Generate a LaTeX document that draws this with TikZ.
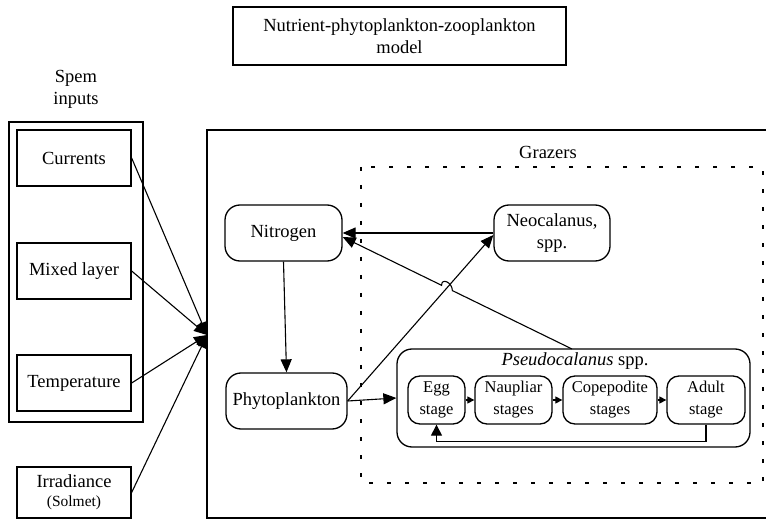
\documentclass[tikz,border=0pt]{standalone}
\usepackage{fontspec}
\setmainfont{Liberation Serif}
\usetikzlibrary{arrows.meta,calc}
\begin{document}
\begin{tikzpicture}[x=1pt,y=-1pt,
  every node/.style={font=\fontsize{18.5}{22}\selectfont, inner sep=0pt, align=center},
  box/.style={draw, line width=1.3pt},
  rbox/.style={draw, line width=1.3pt, rounded corners=15pt},
  stagebox/.style={draw, line width=1.3pt, rounded corners=12pt, font=\fontsize{16.5}{22}\selectfont},
  arr/.style={line width=1.1pt, -{Triangle[length=13pt,width=11pt]}},
  sarr/.style={line width=1.1pt, -{Triangle[length=7pt,width=7pt]}},
  grazerline/.style={line width=1.1pt, dash pattern=on 4pt off 14pt}
]
\useasboundingbox (0,0) rectangle (766,521);

% title
\node[box, minimum width=333pt, minimum height=58pt] (title) at (399.5,36) {Nutrient-phytoplankton-zooplankton\\model};

% inputs
\node (spem) at (76,89) {Spem\\inputs};
\node[box, minimum width=134pt, minimum height=300pt] (inputs) at (76,272) {};
\node[box, minimum width=114pt, minimum height=56pt] (cur) at (74,158) {Currents};
\node[box, minimum width=114pt, minimum height=56pt] (mix) at (74,271) {Mixed layer};
\node[box, minimum width=114pt, minimum height=56pt] (tmp) at (74,383) {Temperature};
\node[box, minimum width=114pt, minimum height=51pt] (irr) at (74,492.5) {Irradiance\\[-3pt]{\fontsize{15.5}{18}\selectfont (Solmet)}};

% main model box (right side runs off the page)
\draw[box] (767,130) -| (207,518) -- (767,518);
\coordinate (mainin) at (207,335);

% grazers
\draw[grazerline] (361,167) rectangle (763,483);
\node (grazers) at (548,152) {Grazers};

% compartments
\node[rbox, minimum width=117pt, minimum height=56pt] (nit) at (283.5,233) {Nitrogen};
\node[rbox, minimum width=116pt, minimum height=56pt] (neo) at (552,233) {Neocalanus,\\spp.};
\node[rbox, minimum width=121pt, minimum height=56pt] (phy) at (286.5,401) {Phytoplankton};
\node[rbox, minimum width=353pt, minimum height=98pt] (pseudo) at (573.5,398) {};
\node (pseudotitle) at (575,361) {\textit{Pseudocalanus} spp.};

\node[stagebox, minimum width=57pt, minimum height=48pt] (egg) at (436.5,400) {Egg\\stage};
\node[stagebox, minimum width=77pt, minimum height=48pt] (naup) at (513.5,400) {Naupliar\\stages};
\node[stagebox, minimum width=94pt, minimum height=48pt] (cope) at (610,400) {Copepodite\\stages};
\node[stagebox, minimum width=78pt, minimum height=48pt] (adult) at (706,400) {Adult\\stage};

% inputs to model
\draw[arr] (cur.east) -- (mainin);
\draw[arr] (mix.east) -- (mainin);
\draw[arr] (tmp.east) -- (mainin);
\draw[arr] (irr.east) -- (mainin);

% model connectors
\draw[arr] (nit.south) -- (phy.north);
\draw[arr] (neo.west) -- (nit.east);
\coordinate (neoin) at ($(neo.west)+(0,2)$);
\draw[arr] (phy.east) -- (neoin);
\draw[arr] (phy.east) -- (pseudo.west);

\coordinate (pstart) at (572,349);
\coordinate (nitin) at ($(nit.east)+(0,4)$);
\coordinate (X) at (intersection of phy.east--neoin and pstart--nitin);
\coordinate (H1) at ($(X)!6pt!(pstart)$);
\coordinate (H2) at ($(X)!6pt!(nitin)$);
\draw[arr] (pstart) -- (H1) .. controls ($(H1)+(0,-8)$) and ($(H2)+(0,-8)$) .. (H2) -- (nitin);

% life stages
\draw[sarr] (egg.east) -- (naup.west);
\draw[sarr] (naup.east) -- (cope.west);
\draw[sarr] (cope.east) -- (adult.west);
\draw[line width=1.1pt, -{Triangle[length=11pt,width=11pt]}] (adult.south) -- ++(0,17) -| (egg.south);
\end{tikzpicture}
\end{document}
